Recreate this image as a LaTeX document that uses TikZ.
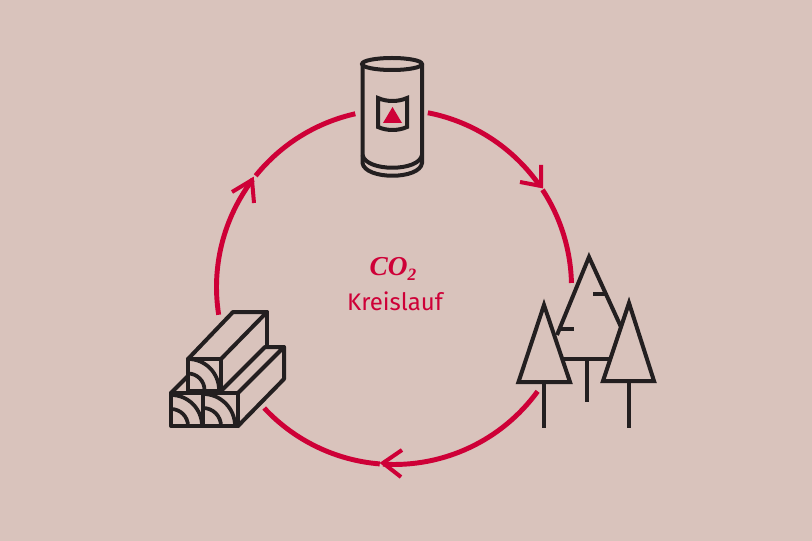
\documentclass[tikz,border=0pt]{standalone}
\usepackage{fontspec}
\setmainfont{Fira Sans}
\newfontfamily\coserif{Liberation Serif}
\definecolor{bgc}{HTML}{D9C3BC}
\definecolor{redc}{HTML}{CE0037}
\definecolor{inkc}{HTML}{231F20}
\tikzset{
 cyc/.style={draw=redc,line width=3.7pt},
 chev/.style={draw=redc,line width=3pt,line join=miter},
 icon/.style={draw=inkc,line width=3pt,line join=miter},
 woodline/.style={draw=inkc,line width=3pt,line join=round,line cap=round},
 grain/.style={draw=inkc,line width=2.8pt},
 label/.style={text=redc,inner sep=0pt,anchor=base},
}
\newcommand{\cycarc}[2]{\draw[cyc] (394,287) ++(#1:177.5) arc[start angle=#1,end angle=#2,radius=177.5];}
\begin{document}
\begin{tikzpicture}[x=0.75pt,y=-0.75pt]
\useasboundingbox (0,0) rectangle (812,541);
\fill[bgc] (0,0) rectangle (812,541);
% cycle arcs
\cycarc{171}{217.2}
\cycarc{218.8}{257.4}
\cycarc{281}{325.3}
\cycarc{326.8}{358.7}
\cycarc{36}{93.6}
\cycarc{94.6}{137}
% arrowheads
\draw[chev] (232,192) -- (252,180) -- (254,203);
\draw[chev] (520,182) -- (541,186) -- (541,165);
\draw[chev] (402,450) -- (383,463) -- (401,477);
% tank
\draw[icon] (392,64) ellipse[x radius=30,y radius=6];
\draw[icon] (362.5,64) -- (362.5,163) .. controls (365,180) and (420,180) .. (422,163) -- (422,64);
\draw[icon] (362.5,155) .. controls (366,172) and (419,172) .. (422,155);
\draw[icon] (378,98) .. controls (387,102) and (398,102) .. (407,98) -- (407,127) .. controls (398,131) and (387,131) .. (378,127) -- cycle;
\fill[redc] (392.5,107) -- (402,123) -- (383,123) -- cycle;
% wood
\draw[woodline] (188,359) -- (233,312) -- (267,312) -- (221,359);
\draw[woodline] (267,312) -- (267,347);
\draw[woodline] (188,359) rectangle (221,391);
\draw[woodline] (171,393) rectangle (203,426);
\draw[woodline] (203,393) rectangle (238,426);
\draw[woodline] (171,393) -- (188,376);
\draw[woodline] (221,391) -- (265,347) -- (284,347) -- (238,393);
\draw[woodline] (284,347) -- (284,379) -- (238,426);
\begin{scope}
\clip (188,359) rectangle (221,391);
\draw[grain] (188,390) ++(0:31) arc[start angle=0,end angle=-90,radius=31];
\draw[grain] (188,390) ++(0:16.5) arc[start angle=0,end angle=-90,radius=16.5];
\end{scope}
\begin{scope}
\clip (171,393) rectangle (203,426);
\draw[grain] (171,426) ++(0:31) arc[start angle=0,end angle=-90,radius=31];
\draw[grain] (171,426) ++(0:17) arc[start angle=0,end angle=-90,radius=17];
\end{scope}
\begin{scope}
\clip (203,393) rectangle (238,426);
\draw[grain] (203,426) ++(0:32) arc[start angle=0,end angle=-90,radius=32];
\draw[grain] (203,426) ++(0:18) arc[start angle=0,end angle=-90,radius=18];
\end{scope}
% trees
\draw[icon] (557,335) -- (589,257) -- (621,327);
\draw[icon] (563,359) -- (610,359);
\draw[icon] (587,359) -- (587,402);
\draw[icon] (559,329) -- (574,329);
\draw[icon] (593,294) -- (607,294);
\draw[icon] (518.5,382) -- (544,305) -- (570,382) -- cycle;
\draw[icon] (544,382) -- (544,428);
\draw[icon] (603,381) -- (629,303) -- (654,381) -- cycle;
\draw[icon] (629,381) -- (629,428);
% labels
\node[label,font=\coserif\bfseries\itshape\fontsize{20.5pt}{22pt}\selectfont] (co2) at (393,276) {CO\raisebox{-0.15em}{\fontsize{13pt}{13pt}\selectfont 2}};
\node[label,font=\fontsize{18pt}{20pt}\selectfont] (kreis) at (395,310) {Kreislauf};
\end{tikzpicture}
\end{document}
